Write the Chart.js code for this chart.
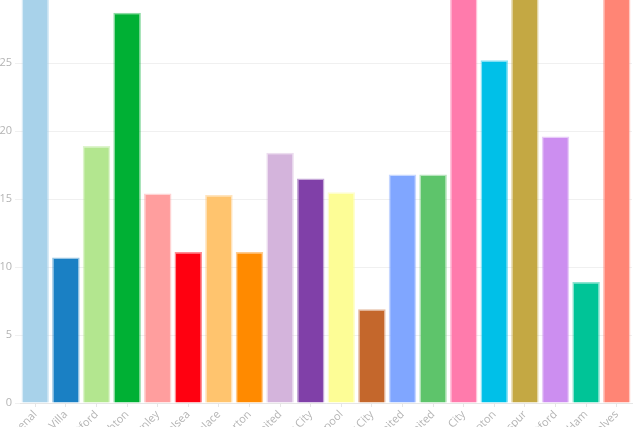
<!DOCTYPE html>
<html>
<head>
<meta charset="utf-8">
<script src="https://cdn.jsdelivr.net/npm/chart.js@4.4.0/dist/chart.umd.min.js"></script>
<style>
    html, body { margin: 0; padding: 0; background: #fff; overflow: hidden; }
    body { width: 640px; height: 427px; position: relative; }
    #wrap { position: absolute; left: 0; top: -90px; width: 640px; height: 600px; }
</style>
</head>
<body>
<div id="wrap"><canvas id="Chart"></canvas></div>
<script>
// команды
const teams = ['Arsenal', 'Aston Villa', 'Brentford', 'Brighton', 'Burnley', 'Chelsea',
    'Crystal Palace', 'Everton', 'Leeds United', 'Leicester City', 'Liverpool',
    'Manchester City', 'Manchester United', 'Newcastle United', 'Norwich City',
    'Southampton', 'Tottenham Hotspur', 'Watford', 'West Ham', 'Wolves'];

// значения (верх у четырёх столбцов обрезан, оценка)
const values = [32.5, 10.7, 18.9, 28.7, 15.4, 11.1, 15.3, 11.1, 18.4, 16.5, 15.5,
    6.9, 16.8, 16.8, 33.5, 25.2, 32, 19.6, 8.9, 31];

const colors = ['#a8d2ea', '#1a80c4', '#b3e68f', '#00b034', '#ff9e9e', '#ff0010',
    '#ffc46e', '#ff8a00', '#d4b4dc', '#8040a8', '#fdfd96', '#c4672c', '#80a6ff',
    '#5ec46b', '#ff7bac', '#00c0e8', '#c4a843', '#cc8ef0', '#00c497', '#ff8575'];

const yTicks = [0, 5, 10, 15, 20, 25, 30, 35];

function withAlpha(hex, a) {
    const n = parseInt(hex.slice(1), 16);
    return 'rgba(' + (n >> 16) + ',' + ((n >> 8) & 255) + ',' + (n & 255) + ',' + a + ')';
}

const ctx = document.getElementById('Chart');
const chart = new Chart(ctx, {
    type: 'bar',
    data: {
        labels: teams,
        datasets: [{
            data: values,
            backgroundColor: colors,
            borderColor: colors.map(c => withAlpha(c, 0.45)),
            borderWidth: 1.5,
            barPercentage: 0.9,
            categoryPercentage: 1.0
        }]
    },
    options: {
        responsive: true,
        maintainAspectRatio: false,
        animation: false,
        layout: { padding: { top: 17, right: 8, left: 0, bottom: 0 } },
        plugins: {
            legend: { display: false },
            tooltip: { enabled: false }
        },
        scales: {
            x: {
                offset: true,
                grid: {
                    offset: false,
                    drawOnChartArea: false,
                    drawTicks: true,
                    tickLength: 4,
                    color: '#e6e6e6'
                },
                border: { display: true, color: '#e6e6e6' },
                ticks: {
                    padding: 1,
                    minRotation: 45,
                    maxRotation: 45,
                    autoSkip: false,
                    color: '#b4b4b4',
                    font: { family: 'Open Sans', size: 11 }
                },
                afterFit(scale) { scale.height = 107; }
            },
            y: {
                min: 0,
                max: 35,
                afterBuildTicks(scale) { scale.ticks = yTicks.map(v => ({ value: v })); },
                grid: {
                    color: '#f0f0f0',
                    tickLength: 5
                },
                border: { display: false },
                ticks: {
                    padding: 3,
                    color: '#b4b4b4',
                    font: { family: 'Open Sans', size: 11 }
                },
                afterFit(scale) { scale.width = 20; }
            }
        }
    }
});
</script>
</body>
</html>
